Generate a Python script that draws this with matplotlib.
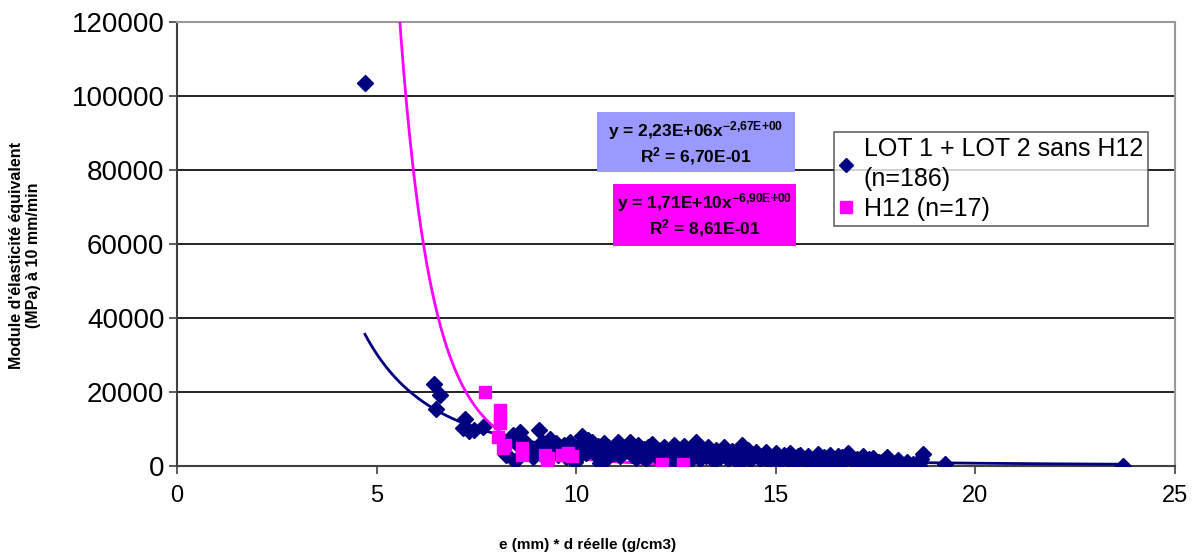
import numpy as np
import matplotlib.pyplot as plt
from matplotlib.lines import Line2D
from matplotlib.patches import Rectangle

plt.rcParams['font.family'] = ['Liberation Sans', 'DejaVu Sans']
plt.rcParams['mathtext.fontset'] = 'custom'
plt.rcParams['mathtext.rm'] = 'Liberation Sans:bold'
plt.rcParams['mathtext.it'] = 'Liberation Sans:bold'
plt.rcParams['mathtext.bf'] = 'Liberation Sans:bold'

# LOT 1 + LOT 2 sans H12
lot_x = [4.71, 6.43, 6.60, 6.48, 7.22, 7.17, 7.32, 7.67, 7.45, 8.24, 8.47, 8.42, 8.30, 8.25,
         8.60, 8.55, 8.70, 8.80, 8.92, 9.07, 9.00, 9.15, 9.35, 9.30, 9.45, 9.50, 9.60, 9.70,
         9.85, 9.90, 9.97, 10.05, 10.14, 10.20, 10.25, 10.30, 10.40, 10.45, 10.50, 10.55,
         10.60, 10.65, 10.70, 10.80, 10.85, 10.90, 11.00, 11.05, 11.10, 11.15, 11.20, 11.30,
         11.35, 11.40, 11.45, 11.50, 11.55, 11.60, 11.70, 11.75, 11.80, 11.85, 11.90, 12.00,
         12.05, 12.10, 12.20, 12.25, 12.30, 12.40, 12.45, 12.50, 12.55, 12.60, 12.70, 12.75,
         12.80, 12.90, 12.95, 13.00, 13.05, 13.10, 13.20, 13.25, 13.30, 13.40, 13.45, 13.50,
         13.60, 13.65, 13.70, 13.80, 13.85, 13.90, 14.00, 14.05, 14.15, 14.10, 14.20, 14.30,
         14.35, 14.40, 14.50, 14.60, 14.70, 14.75, 14.80, 14.90, 15.00, 15.05, 15.10, 15.20,
         15.30, 15.35, 15.45, 15.50, 15.60, 15.70, 15.80, 15.85, 15.95, 16.05, 16.10, 16.20,
         16.30, 16.35, 16.45, 16.55, 16.60, 16.70, 16.80, 16.85, 16.95, 17.05, 17.15, 17.20,
         17.30, 17.45, 17.50, 17.60, 17.70, 17.80, 17.90, 18.07, 18.16, 18.30, 18.45, 18.60,
         18.60, 18.70, 18.65, 19.25, 23.70,
         8.85, 9.25, 9.55, 9.75, 10.10, 10.35, 10.75, 10.95, 11.25, 11.65, 11.95, 12.35,
         12.65, 12.85, 13.15, 13.55, 13.95, 14.25, 14.55, 14.85, 15.15, 15.55, 15.90, 16.25,
         16.65, 17.00, 17.35]
lot_y = [103500, 22200, 19300, 15400, 12700, 10200, 9500, 10600, 9800, 3200, 1400, 8400, 6200, 3000,
         9300, 5800, 6800, 5200, 2500, 9700, 4500, 6500, 7300, 5000, 3800, 6200, 4400, 5600,
         6600, 4200, 1200, 5200, 8100, 6000, 3600, 7000, 6600, 4800, 2900, 5500,
         800, 4000, 6200, 5000, 3200, 4400, 5800, 6600, 2600, 4600, 3800, 5400,
         6400, 3000, 4800, 2200, 5600, 3900, 4500, 1800, 5000, 3400, 6000, 2800,
         4400, 3600, 5200, 2400, 4000, 3200, 5800, 1600, 4600, 3000, 5400, 2200,
         3800, 4800, 2800, 6400, 3400, 1800, 4200, 2600, 5000, 3000, 1400, 4400,
         2400, 3600, 5200, 2000, 3200, 4000, 2600, 1200, 5700, 3400, 2200, 4200,
         1600, 3000, 3800, 2000, 2800, 3900, 1400, 2400, 3400, 1000, 2000, 2900,
         1600, 3600, 2200, 1200, 3000, 1800, 2600, 900, 2000, 3200, 1400, 2400,
         1000, 3000, 1800, 2600, 700, 1600, 3600, 2200, 1200, 2000, 800, 2800,
         1500, 2200, 600, 1200, 1400, 2400, 900, 1600, 300, 1000, 500, 1200,
         300, 3200, 2000, 500, 100,
         3800, 2000, 3000, 2400, 3000, 4200, 2000, 3600, 4200, 2800, 4200, 2000,
         3600, 1600, 3200, 2800, 3400, 3000, 2600, 2200, 1800, 2600, 1400, 2000,
         2400, 1400, 1800]

# H12 (n=17)
h12_x = [7.72, 8.10, 8.10, 8.10, 8.05, 8.22, 8.17, 8.64, 8.64, 9.27, 9.22, 9.30, 9.64, 9.80,
         9.90, 12.16, 12.69]
h12_y = [19900, 15000, 13000, 11700, 7900, 5700, 4800, 3000, 4900, 1600, 3000, 2200, 3000, 3500,
         2600, 500, 500]

# power trend lines (equations printed on the chart)
lot_a, lot_b = 2.23e6, -2.67
h12_a, h12_b = 1.71e10, -6.90

navy = '#000080'
pink = '#FF00FF'

W, H = 1200, 559
fig = plt.figure(figsize=(12, 5.59), dpi=100)
ax = fig.add_axes([0.1475, 0.1664, 0.8315, 0.7942])

for yv in range(20000, 120001, 20000):
    ax.axhline(yv, color='#222222' if yv < 120000 else '#999999', lw=1.4, zorder=1)

xt = np.linspace(min(lot_x), max(lot_x), 400)
ax.plot(xt, lot_a * xt ** lot_b, color=navy, lw=2, zorder=3)
xt2 = np.linspace(5.5, max(h12_x), 400)
ax.plot(xt2, h12_a * xt2 ** h12_b, color=pink, lw=2, zorder=3)

ax.plot(lot_x, lot_y, 'D', color=navy, ms=8.5, mec=navy, ls='none', zorder=4)
ax.plot(h12_x, h12_y, 's', color=pink, ms=9, mec=pink, ls='none', zorder=5)

ax.set_xlim(0, 25)
ax.set_ylim(0, 120000)
ax.set_xticks(range(0, 26, 5))
ax.set_yticks(range(0, 120001, 20000))
ax.tick_params(axis='both', direction='out', length=6, width=1.2, color='#404040')
ax.tick_params(axis='y', pad=3, labelsize=20)
ax.tick_params(axis='x', pad=8, labelsize=17)
ax.spines['left'].set_color('#404040')
ax.spines['bottom'].set_color('#404040')
ax.spines['left'].set_linewidth(1.5)
ax.spines['bottom'].set_linewidth(1.5)
ax.spines['top'].set_color('#999999')
ax.spines['right'].set_color('#999999')
ax.spines['top'].set_linewidth(1.5)
ax.spines['right'].set_linewidth(1.5)

fig.text(0.021, 0.543, "Module d'élasticité équivalent\n(MPa) à 10 mm/min", rotation=90,
         ha='center', va='center', fontsize=11.5, fontweight='bold')
fig.text(0.49, 0.025, 'e (mm) * d réelle (g/cm3)', ha='center', va='center',
         fontsize=11, fontweight='bold')

# equation boxes (pixel boxes: x0, y0_top, x1, y1_bottom)
for (x0, y0, x1, y1), fc, eq, r2 in [
        ((597, 112, 795, 172), '#9999FF', 'y = 2,23E+06x$^{-2{,}67E{+}00}$', 'R$^{2}$ = 6,70E-01'),
        ((613, 184, 796, 246), pink, 'y = 1,71E+10x$^{-6{,}90E{+}00}$', 'R$^{2}$ = 8,61E-01')]:
    fig.patches.append(Rectangle((x0 / W, 1 - y1 / H), (x1 - x0) / W, (y1 - y0) / H,
                                 transform=fig.transFigure, fc=fc, ec='none', zorder=5))
    xc = (x0 + x1) / 2 / W
    fig.text(xc, 1 - (y0 + 19) / H, eq, ha='center', va='center', fontsize=12.5,
             fontweight='bold', zorder=6)
    fig.text(xc, 1 - (y0 + 44) / H, r2, ha='center', va='center', fontsize=12.5,
             fontweight='bold', zorder=6)

handles = [Line2D([], [], marker='D', color=navy, ls='none', ms=7),
           Line2D([], [], marker='s', color=pink, ls='none', ms=8)]
leg = ax.legend(handles, ['LOT 1 + LOT 2 sans H12\n(n=186)', 'H12 (n=17)'],
                loc='upper left', bbox_to_anchor=(0.658, 0.752), fontsize=18,
                frameon=True, fancybox=False, handlelength=0.6, handletextpad=0.4,
                borderpad=0.2, labelspacing=0.25, borderaxespad=0)
leg.get_frame().set_edgecolor('#404040')
leg.get_frame().set_linewidth(1.2)
for t in leg.get_texts():
    t.set_linespacing(1.3)

fig.savefig('out.png', dpi=100)
